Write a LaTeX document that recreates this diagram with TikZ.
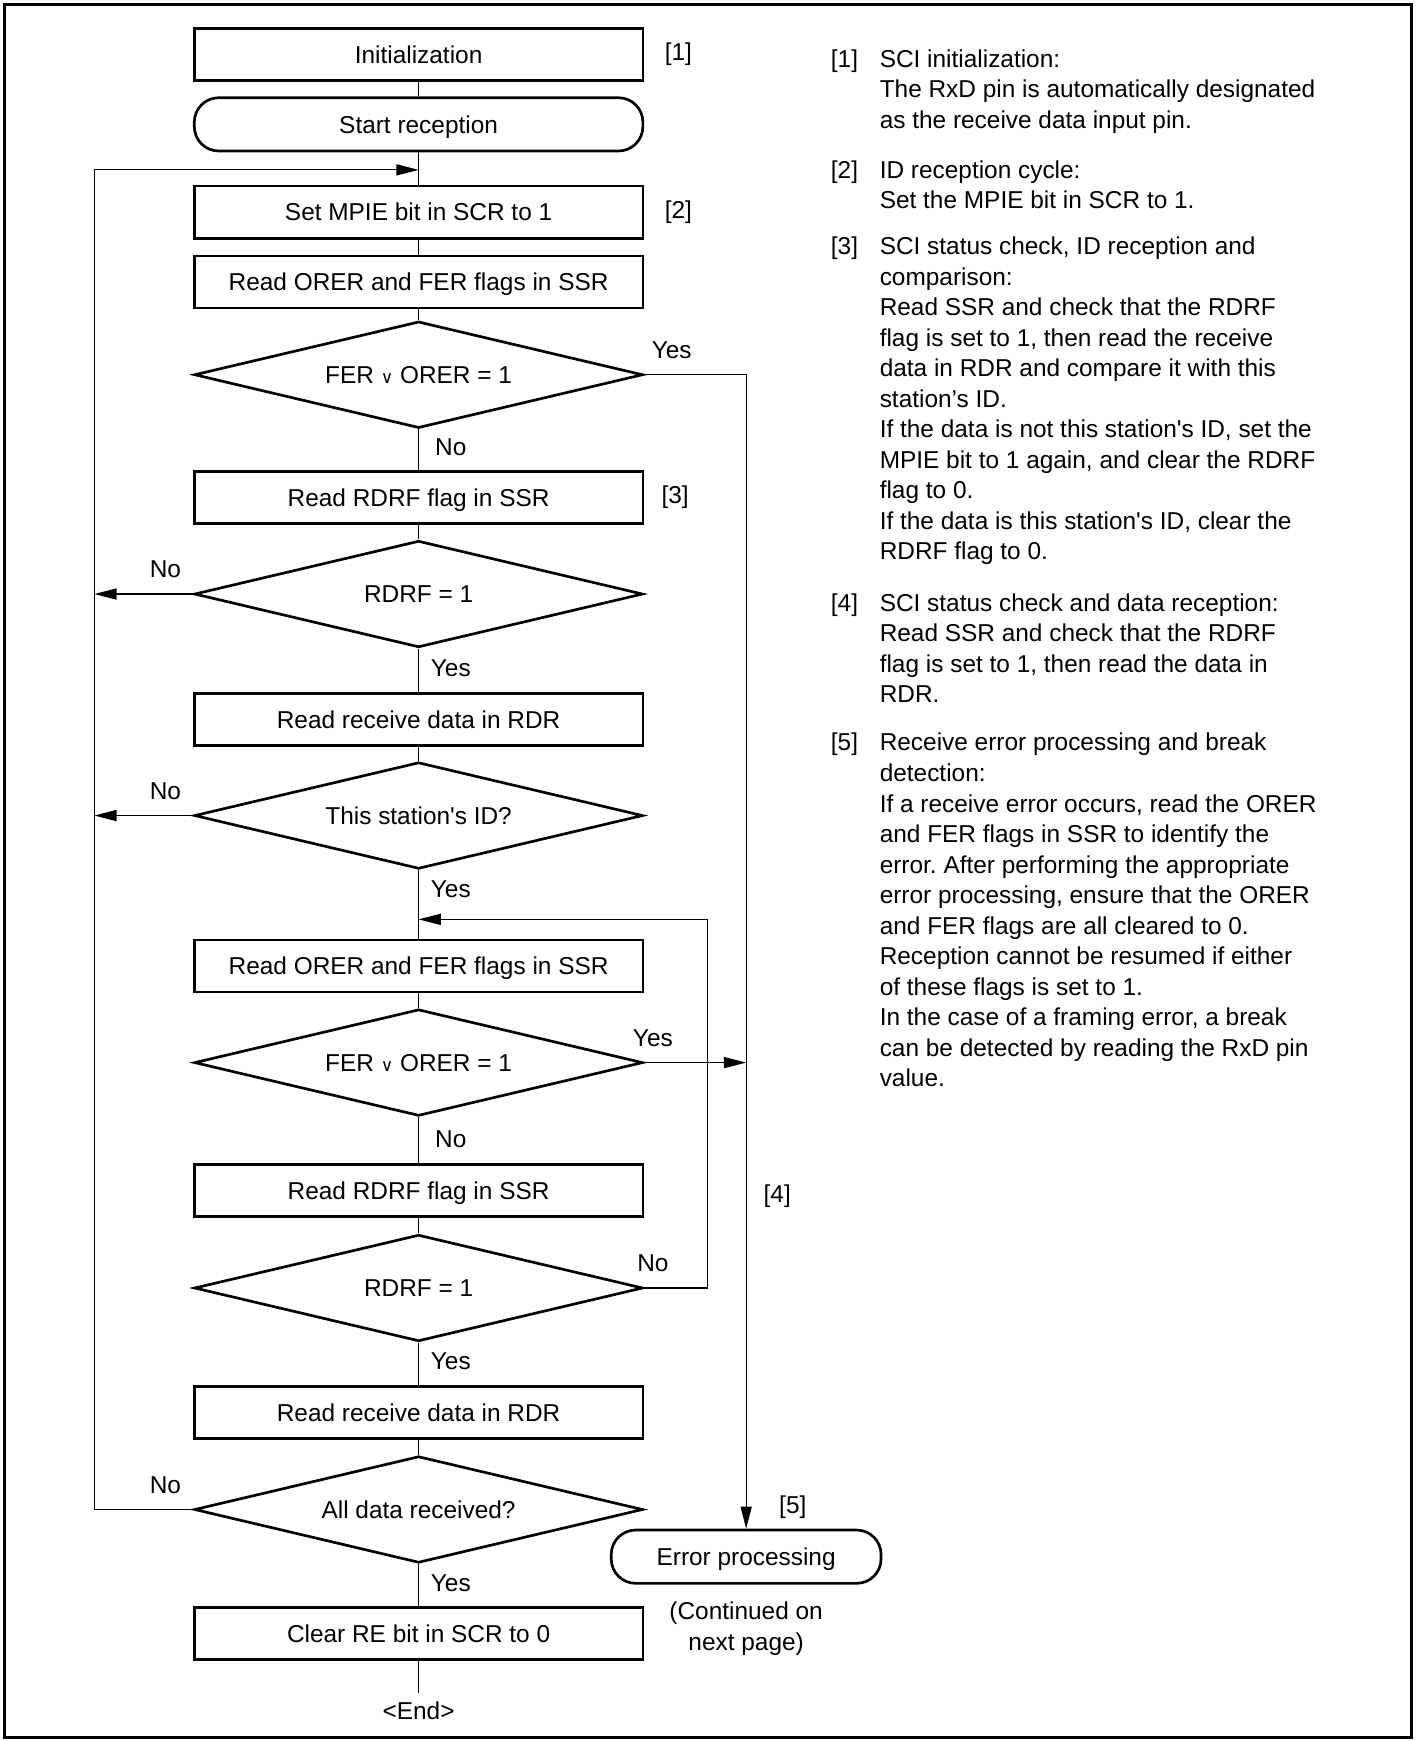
\documentclass[tikz,border=0pt]{standalone}
\usepackage{fontspec}
\newfontfamily\arialf{Liberation Sans}
\newfontfamily\djv{DejaVu Sans}
\usetikzlibrary{shapes.geometric,arrows.meta}
\newlength\myu \setlength\myu{0.555pt}
\newcommand\orsym{{\djv\fontsize{8.5}{8.5}\selectfont ∨}}
\frenchspacing
\tikzset{
  every node/.style={font=\arialf\fontsize{12.2}{15.26}\selectfont},
  boxtext/.style={text height=8.9pt, text depth=0pt, inner sep=0pt, line width=2.4\myu, draw},
  proc/.style={boxtext, rectangle, minimum width=404\myu, minimum height=47\myu},
  term/.style={boxtext, rectangle, rounded corners=22\myu, minimum width=404\myu, minimum height=48\myu},
  dec/.style={boxtext, diamond, shape aspect=4, minimum width=404\myu, minimum height=96\myu},
  conn/.style={line width=1.1\myu},
  arr/.style={conn, -{Triangle[length=11.1pt,width=5.55pt]}},
  lab/.style={inner sep=0pt},
  note/.style={inner sep=0pt, anchor=north west, align=left},
}
\begin{document}
\begin{tikzpicture}[x=0.555pt, y=-0.555pt]
\useasboundingbox (0,0) rectangle (1276,1568);
\draw[line width=2.5\myu] (4,4) rectangle (1271,1565);

% main column
\node[proc] (init)  at (377,49)   {Initialization};
\node[term] (start) at (377,112)  {Start reception};
\node[proc] (mpie)  at (377,191)  {Set MPIE bit in SCR to 1};
\node[proc] (orer1) at (377,254)  {Read ORER and FER flags in SSR};
\node[dec]  (d1)    at (377,337.5) {FER \orsym{} ORER = 1};
\node[proc] (rdrf1) at (377,448)  {Read RDRF flag in SSR};
\node[dec]  (d2)    at (377,535)  {RDRF = 1};
\node[proc] (rrd1)  at (377,648)  {Read receive data in RDR};
\node[dec]  (d3)    at (377,734.5) {This station's ID?};
\node[proc] (orer2) at (377,870)  {Read ORER and FER flags in SSR};
\node[dec]  (d4)    at (377,957)  {FER \orsym{} ORER = 1};
\node[proc] (rdrf2) at (377,1072) {Read RDRF flag in SSR};
\node[dec]  (d5)    at (377,1160) {RDRF = 1};
\node[proc] (rrd2)  at (377,1272) {Read receive data in RDR};
\node[dec]  (d6)    at (377,1359.5) {All data received?};
\node[proc] (clr)   at (377,1471) {Clear RE bit in SCR to 0};
\node[lab]  (endl)  at (377,1541) {<End>};
\node[term, minimum width=243\myu] (err) at (672,1402) {Error processing};

\coordinate (loopin)  at (377,153);
\coordinate (lefttop) at (85,153);
\coordinate (loop2in) at (377,828);
\coordinate (r2top)   at (637,828);
\coordinate (endtop)  at (377,1525);

% connectors
\draw[conn] (init) -- (start);
\draw[conn] (start) -- (mpie);
\draw[conn] (mpie) -- (orer1);
\draw[conn] (orer1) -- (d1);
\draw[conn] (d1) -- (rdrf1);
\draw[conn] (rdrf1) -- (d2);
\draw[conn] (d2) -- (rrd1);
\draw[conn] (rrd1) -- (d3);
\draw[conn] (d3) -- (orer2);
\draw[conn] (orer2) -- (d4);
\draw[conn] (d4) -- (rdrf2);
\draw[conn] (rdrf2) -- (d5);
\draw[conn] (d5) -- (rrd2);
\draw[conn] (rrd2) -- (d6);
\draw[conn] (d6) -- (clr);
\draw[conn] (clr) -- (endtop);

\draw[arr] (d6.west) -| (lefttop) -- (loopin);
\draw[arr] (d2.west) -- (d2.west -| lefttop);
\draw[arr] (d3.west) -- (d3.west -| lefttop);
\draw[arr] (d5.east) -| (r2top) -- (loop2in);
\draw[arr] (d1.east) -| (err.north);
\draw[arr] (d4.east) -- (d4.east -| err.north);

% labels
\node[lab] at (611,49) {[1]};
\node[lab] at (611,191) {[2]};
\node[lab] at (608,448) {[3]};
\node[lab] at (700,1077) {[4]};
\node[lab] at (714,1357) {[5]};
\node[lab] at (605,315) {Yes};
\node[lab] at (406,403) {No};
\node[lab] at (149,513) {No};
\node[lab] at (406,602) {Yes};
\node[lab] at (149,713) {No};
\node[lab] at (406,801) {Yes};
\node[lab] at (588,935) {Yes};
\node[lab] at (406,1026) {No};
\node[lab] at (588,1138) {No};
\node[lab] at (406,1226) {Yes};
\node[lab] at (149,1338) {No};
\node[lab] at (406,1426) {Yes};
\node[lab, align=center] at (672,1467) {(Continued on\\next page)};

% notes (top = first baseline - 19.25)
\node[note] at (748,40.75) {\strut[1]};
\node[note] at (792,40.75) {\strut SCI initialization:\\The RxD pin is automatically designated\\as the receive data input pin.};
\node[note] at (748,140.75) {\strut[2]};
\node[note] at (792,140.75) {\strut ID reception cycle:\\Set the MPIE bit in SCR to 1.};
\node[note] at (748,209.75) {\strut[3]};
\node[note] at (792,209.75) {\strut SCI status check, ID reception and\\comparison:\\Read SSR and check that the RDRF\\flag is set to 1, then read the receive\\data in RDR and compare it with this\\station’s ID.\\If the data is not this station's ID, set the\\MPIE bit to 1 again, and clear the RDRF\\flag to 0.\\If the data is this station's ID, clear the\\RDRF flag to 0.};
\node[note] at (748,530.75) {\strut[4]};
\node[note] at (792,530.75) {\strut SCI status check and data reception:\\Read SSR and check that the RDRF\\flag is set to 1, then read the data in\\RDR.};
\node[note] at (748,656.75) {\strut[5]};
\node[note] at (792,656.75) {\strut Receive error processing and break\\detection:\\If a receive error occurs, read the ORER\\and FER flags in SSR to identify the\\error. After performing the appropriate\\error processing, ensure that the ORER\\and FER flags are all cleared to 0.\\Reception cannot be resumed if either\\of these flags is set to 1.\\In the case of a framing error, a break\\can be detected by reading the RxD pin\\value.};
\end{tikzpicture}
\end{document}
